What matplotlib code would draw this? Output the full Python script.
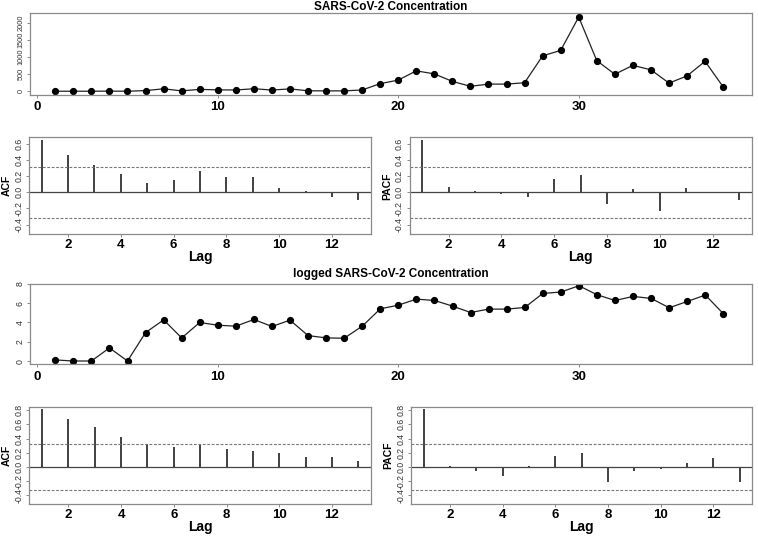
import numpy as np
import matplotlib
matplotlib.use('Agg')
import matplotlib.pyplot as plt

plt.rcParams['font.family'] = ['Liberation Sans', 'DejaVu Sans']

# Serie original (concentracion) y serie logaritmica
time_idx = list(range(1, 39))
conc = [1, 1, 1, 4, 1, 19, 72, 11, 55, 41, 37, 74, 36, 69, 14, 11, 11, 37,
        223, 327, 600, 510, 290, 145, 210, 210, 250, 1040, 1200, 2180,
        900, 500, 760, 630, 240, 450, 880, 130]
log_conc = [0.14, 0.03, 0.03, 1.38, 0.03, 2.96, 4.27, 2.41, 4.0, 3.72, 3.62,
            4.31, 3.59, 4.24, 2.65, 2.41, 2.38, 3.62, 5.41, 5.79, 6.41, 6.27,
            5.69, 5.03, 5.38, 5.38, 5.55, 7.0, 7.14, 7.79, 6.86, 6.27, 6.69,
            6.48, 5.52, 6.17, 6.83, 4.9]

lags = list(range(1, 14))
acf_raw = [0.65, 0.46, 0.34, 0.22, 0.12, 0.15, 0.26, 0.185, 0.185, 0.054,
           0.016, -0.054, -0.10]
pacf_raw = [0.65, 0.07, 0.012, -0.025, -0.06, 0.16, 0.21, -0.15, 0.045,
            -0.23, 0.054, 0.003, -0.10]
acf_log = [0.82, 0.674, 0.557, 0.42, 0.318, 0.285, 0.31, 0.253, 0.23, 0.19,
           0.145, 0.136, 0.08]
pacf_log = [0.82, 0.02, -0.05, -0.126, 0.014, 0.16, 0.19, -0.21, -0.056,
            -0.028, 0.056, 0.126, -0.206]

n_obs = len(time_idx)
clim = 1.96 / np.sqrt(n_obs)

W, H = 758, 537
FRAME = '#8a8a8a'


def box(l, t, r, b):
    # pixeles (desde arriba) -> fraccion de figura
    return [l / W, 1 - b / H, (r - l) / W, (b - t) / H]


def style(ax, xsize=9.5, xpad=2, ysize=5.5):
    for s in ax.spines.values():
        s.set_color(FRAME)
        s.set_linewidth(0.9)
    ax.tick_params(axis='both', color=FRAME, length=2.5, width=0.7)
    ax.tick_params(axis='x', labelsize=xsize, pad=xpad)
    ax.tick_params(axis='y', labelsize=ysize, pad=1.5, labelcolor='#333333')
    for lab in ax.get_xticklabels():
        lab.set_fontweight('bold')
    for lab in ax.get_yticklabels():
        lab.set_rotation(90)
        lab.set_va('center')


def ts_panel(rect, y, ylim, yticks, title, ysize, tpad):
    ax = fig.add_axes(rect)
    ax.plot(time_idx, y, color='#222222', lw=0.9, marker='o', ms=4.2,
            mfc='black', mec='black')
    ax.set_xlim(-0.4, 39.6)
    ax.set_ylim(*ylim)
    ax.set_xticks([0, 10, 20, 30])
    ax.set_yticks(yticks)
    style(ax, ysize=ysize)
    ax.set_title(title, fontsize=8.5, fontweight='bold', pad=tpad)
    return ax


def cf_panel(rect, vals, ylabel, ylim, yticks):
    ax = fig.add_axes(rect)
    ax.vlines(lags, 0, vals, color='#333333', lw=1.3)
    ax.axhline(0, color='#444444', lw=0.9)
    for c in (clim, -clim):
        ax.axhline(c, color='#777777', lw=0.8, ls=(0, (2.5, 1.5)))
    ax.set_xlim(0.52, 13.48)
    ax.set_ylim(*ylim)
    ax.set_xticks([2, 4, 6, 8, 10, 12])
    ax.set_yticks(yticks)
    ax.set_yticklabels(['%.1f' % v for v in yticks])
    style(ax, xsize=9.5, xpad=1, ysize=6.3)
    ax.set_xlabel('Lag', fontsize=10, fontweight='bold', labelpad=-1)
    ax.set_ylabel(ylabel, fontsize=7.5, fontweight='bold', labelpad=2)
    return ax


fig = plt.figure(figsize=(W / 100, H / 100), dpi=100)
fig.patch.set_facecolor('white')

# Serie original
ts_panel(box(30, 13.3, 752, 95), conc, (-110, 2290),
         [0, 500, 1000, 1500, 2000], 'SARS-CoV-2 Concentration', 5.3, 2)
cf_panel(box(29, 137.3, 371, 234.3), acf_raw, 'ACF', (-0.52, 0.68),
         [-0.4, -0.2, 0.0, 0.2, 0.4, 0.6])
cf_panel(box(409.5, 137.3, 751.7, 234.3), pacf_raw, 'PACF', (-0.52, 0.68),
         [-0.4, -0.2, 0.0, 0.2, 0.4, 0.6])

# Serie logaritmica
ts_panel(box(30, 283.7, 752.3, 364.3), log_conc, (-0.31, 8.0),
         [0, 2, 4, 6, 8], 'logged SARS-CoV-2 Concentration', 6.3, 5)
cf_panel(box(29.3, 406.7, 371, 504.3), acf_log, 'ACF', (-0.524, 0.847),
         [-0.4, -0.2, 0.0, 0.2, 0.4, 0.6, 0.8])
cf_panel(box(411, 406.7, 752.3, 504.3), pacf_log, 'PACF', (-0.524, 0.847),
         [-0.4, -0.2, 0.0, 0.2, 0.4, 0.6, 0.8])

fig.savefig('out.png', dpi=100, facecolor='white')
